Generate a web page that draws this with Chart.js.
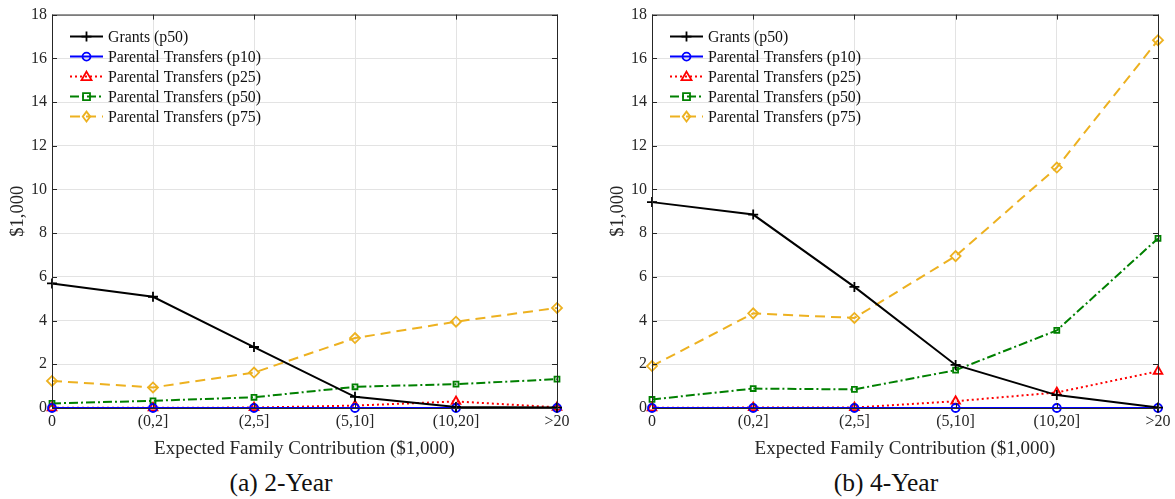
<!DOCTYPE html>
<html>
<head>
<meta charset="utf-8">
<script src="https://cdn.jsdelivr.net/npm/chart.js@4.4.1/dist/chart.umd.min.js"></script>
<style>
  body { margin: 0; background: #fff; width: 1175px; height: 499px; position: relative; overflow: hidden; font-family: "Liberation Serif", serif; }
  canvas { position: absolute; top: 0; }
  #c2y { left: 0; }
  #c4y { left: 600px; }
  .cap { position: absolute; top: 468px; font-size: 25.5px; color: #111; text-align: center; width: 300px; line-height: 30px; }
</style>
</head>
<body>
<canvas id="c2y" width="585" height="460"></canvas>
<canvas id="c4y" width="575" height="460"></canvas>
<div class="cap" style="left:131px">(a) 2-Year</div>
<div class="cap" style="left:736px">(b) 4-Year</div>
<script>
const categories = ["0", "(0,2]", "(2,5]", "(5,10]", "(10,20]", ">20"];
const yTicks = [0, 2, 4, 6, 8, 10, 12, 14, 16, 18];

// 2-Year
const grants2 = [5.70, 5.09, 2.79, 0.51, 0.05, 0.02];
const p10_2 = [0, 0, 0, 0, 0, 0];
const p25_2 = [0.01, 0.01, 0.02, 0.11, 0.30, 0.03];
const p50_2 = [0.21, 0.33, 0.49, 0.97, 1.09, 1.32];
const p75_2 = [1.24, 0.94, 1.62, 3.20, 3.95, 4.58];

// 4-Year
const grants4 = [9.42, 8.85, 5.54, 1.97, 0.59, 0.02];
const p10_4 = [0, 0, 0, 0, 0, 0];
const p25_4 = [0.01, 0.02, 0.02, 0.31, 0.71, 1.68];
const p50_4 = [0.39, 0.89, 0.85, 1.73, 3.55, 7.76];
const p75_4 = [1.92, 4.33, 4.12, 6.95, 11.0, 16.83];

const seriesLabels = ["Grants (p50)", "Parental Transfers (p10)", "Parental Transfers (p25)", "Parental Transfers (p50)", "Parental Transfers (p75)"];

const styles = [
  { color: "#000000", dash: [], marker: "cross", r: 5 },
  { color: "#0000ff", dash: [], marker: "circle", r: 4 },
  { color: "#ff0000", dash: [2, 3], marker: "triangle", r: 5 },
  { color: "#008000", dash: [9, 3, 2, 3], marker: "rect", r: 3.5 },
  { color: "#EDB120", dash: [10, 6], marker: "rectRot", r: 5 },
];

const serifFont = "'Liberation Serif', 'Times New Roman', serif";
const textColor = "#262626";

function drawMarker(ctx, type, x, y, r, color) {
  ctx.save();
  ctx.setLineDash([]);
  ctx.strokeStyle = color;
  ctx.lineWidth = 1.8;
  ctx.beginPath();
  if (type === "cross") {
    ctx.moveTo(x - r, y); ctx.lineTo(x + r, y);
    ctx.moveTo(x, y - r); ctx.lineTo(x, y + r);
  } else if (type === "circle") {
    ctx.arc(x, y, r, 0, Math.PI * 2);
  } else if (type === "triangle") {
    ctx.moveTo(x, y - r); ctx.lineTo(x + r, y + r * 0.7); ctx.lineTo(x - r, y + r * 0.7); ctx.closePath();
  } else if (type === "rect") {
    ctx.rect(x - r, y - r, r * 2, r * 2);
  } else if (type === "rectRot") {
    ctx.moveTo(x, y - r); ctx.lineTo(x + r * 0.75, y); ctx.lineTo(x, y + r); ctx.lineTo(x - r * 0.75, y); ctx.closePath();
  }
  ctx.stroke();
  ctx.restore();
}

// box, inner ticks and legend drawn on top of the data
const framePlugin = {
  id: "frame",
  afterDatasetsDraw(chart) {
    const ctx = chart.ctx;
    const a = chart.chartArea;
    ctx.save();
    ctx.strokeStyle = textColor;
    ctx.lineWidth = 1;
    ctx.setLineDash([]);
    ctx.strokeRect(a.left + 0.5, a.top + 0.5, a.right - a.left, a.bottom - a.top);
    const ys = chart.scales.y;
    ctx.beginPath();
    yTicks.forEach((v) => {
      const py = Math.round(ys.getPixelForValue(v)) + 0.5;
      ctx.moveTo(a.left, py); ctx.lineTo(a.left + 5, py);
      ctx.moveTo(a.right, py); ctx.lineTo(a.right - 5, py);
    });
    const xs = chart.scales.x;
    categories.forEach((c, i) => {
      const px = Math.round(xs.getPixelForValue(i)) + 0.5;
      ctx.moveTo(px, a.top); ctx.lineTo(px, a.top + 5);
      ctx.moveTo(px, a.bottom); ctx.lineTo(px, a.bottom - 5);
    });
    ctx.stroke();

    // legend
    ctx.font = "15.8px " + serifFont;
    ctx.textBaseline = "middle";
    seriesLabels.forEach((lab, i) => {
      const st = styles[i];
      const y = a.top + 22 + i * 20;
      const x0 = a.left + 18, x1 = a.left + 51;
      ctx.strokeStyle = st.color;
      ctx.lineWidth = 2;
      ctx.setLineDash(st.dash);
      ctx.beginPath();
      ctx.moveTo(x0, y); ctx.lineTo(x1, y);
      ctx.stroke();
      drawMarker(ctx, st.marker, (x0 + x1) / 2, y, st.r, st.color);
      ctx.fillStyle = "#111";
      ctx.fillText(lab, a.left + 56, y + 1);
    });
    ctx.restore();
  },
};

function makeChart(id, seriesData, rightPad) {
  const datasets = seriesData.map((d, i) => ({
    label: seriesLabels[i],
    data: d,
    borderColor: styles[i].color,
    backgroundColor: "rgba(0,0,0,0)",
    borderWidth: 2,
    borderDash: styles[i].dash,
    pointStyle: styles[i].marker,
    pointRadius: styles[i].r,
    pointBorderWidth: 1.8,
    pointBorderColor: styles[i].color,
    pointBackgroundColor: "rgba(0,0,0,0)",
    tension: 0,
    fill: false,
    clip: false,
  }));

  return new Chart(document.getElementById(id), {
    type: "line",
    data: { labels: categories, datasets: datasets },
    options: {
      responsive: false,
      animation: false,
      devicePixelRatio: 1,
      layout: { padding: { top: 12, right: rightPad, left: 0, bottom: 0 } },
      plugins: { legend: { display: false }, tooltip: { enabled: false } },
      scales: {
        x: {
          offset: false,
          grid: { color: "#e3e3e3", drawTicks: false },
          border: { display: false },
          ticks: { autoSkip: false, maxRotation: 0, padding: 4, color: textColor, font: { family: serifFont, size: 16 } },
          title: { display: true, text: "Expected Family Contribution ($1,000)", color: textColor, font: { family: serifFont, size: 19 }, padding: { top: 0, bottom: 0 } },
          afterFit(scale) { scale.height = 52; },
        },
        y: {
          min: 0,
          max: 18,
          afterBuildTicks(scale) { scale.ticks = yTicks.map((v) => ({ value: v })); },
          grid: { color: "#e3e3e3", drawTicks: false },
          border: { display: false },
          ticks: { padding: 5, color: textColor, font: { family: serifFont, size: 16 } },
          title: { display: true, text: "$1,000", color: textColor, font: { family: serifFont, size: 18.5 }, padding: { top: 7, bottom: 0 } },
          afterFit(scale) { scale.width = 52; },
        },
      },
    },
    plugins: [framePlugin],
  });
}

makeChart("c2y", [grants2, p10_2, p25_2, p50_2, p75_2], 28);
makeChart("c4y", [grants4, p10_4, p25_4, p50_4, p75_4], 17);
</script>
</body>
</html>
